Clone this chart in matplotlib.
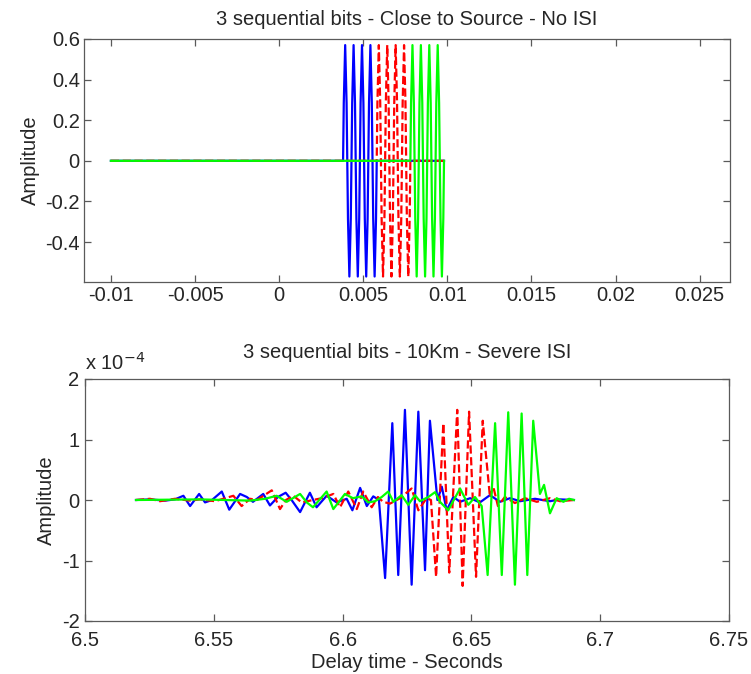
import numpy as np
import matplotlib
matplotlib.use("Agg")
import matplotlib.pyplot as plt

plt.rcParams['font.family'] = ['Liberation Sans', 'DejaVu Sans']

# ---------------- data: top panel (close to source) ----------------
top_bit_start = [0.0038, 0.0058, 0.0078]       # s, start of blue / red / green bit
top_bit_len = 0.002                             # s
top_sample_dt = 0.0005 / 6                      # s, sample spacing
top_trace_start = -0.01
top_trace_end = 0.0098
top_blue_v = [0.285, 0.57, 0.285, -0.285, -0.57, -0.285,
              0.285, 0.57, 0.285, -0.285, -0.57, -0.285,
              0.285, 0.57, 0.285, -0.285, -0.57, -0.285,
              0.285, 0.57, 0.285, -0.285, -0.57, -0.285]
top_red_v = [0.285, 0.57, 0.285, -0.285, -0.57, -0.285,
             0.285, 0.57, 0.285, -0.285, -0.57, -0.285,
             0.285, 0.57, 0.285, -0.285, -0.57, -0.285,
             0.285, 0.57, 0.285, -0.285, -0.57, -0.285]
top_green_v = [0.285, 0.57, 0.285, -0.285, -0.57, -0.285,
               0.285, 0.57, 0.285, -0.285, -0.57, -0.285,
               0.285, 0.57, 0.285, -0.285, -0.57, -0.285,
               0.285, 0.57, 0.285, -0.285, -0.57, -0.285]

# ---------------- data: bottom panel (10 km), amplitude in 1e-4 ----------------
bot_blue_t = [6.5198, 6.5252, 6.5311, 6.5349, 6.5382, 6.5408, 6.5443, 6.5466, 6.5493,
              6.5531, 6.5560, 6.5602, 6.5628, 6.5652, 6.5692, 6.5718, 6.5749, 6.5779,
              6.5802, 6.5835, 6.5873, 6.5899, 6.5938, 6.5977, 6.6016, 6.6038, 6.6068,
              6.6094, 6.6119, 6.6141, 6.6165, 6.6193, 6.6216, 6.6242, 6.6268, 6.6294,
              6.6320, 6.6339, 6.6368, 6.6385, 6.6404, 6.6430, 6.6456, 6.6495, 6.6533,
              6.6572, 6.6611, 6.6650, 6.6689, 6.6747, 6.6805, 6.6844, 6.6898]
bot_blue_v = [0.0, 0.01, -0.01, 0.01, 0.07, -0.10, 0.10, -0.04, 0.0,
              0.14, -0.16, 0.10, 0.05, -0.03, 0.10, -0.09, 0.05, 0.12,
              0.0, -0.20, 0.12, -0.12, 0.07, -0.04, 0.02, -0.17, 0.20,
              -0.10, 0.06, 0.0, -1.29, 1.27, -1.24, 1.49, -1.40, 1.46,
              -1.16, 1.31, 0.0, 0.22, -0.17, 0.05, -0.03, 0.03, -0.04,
              0.08, -0.03, 0.03, -0.02, 0.02, -0.02, 0.01, 0.0]

bot_red_t = [6.5198, 6.5252, 6.5291, 6.5349, 6.5408, 6.5446, 6.5505, 6.5576, 6.5608,
             6.5641, 6.5668, 6.5725, 6.5757, 6.5780, 6.5809, 6.5841, 6.5885, 6.5920,
             6.5964, 6.5990, 6.6022, 6.6055, 6.6080, 6.6113, 6.6137, 6.6157, 6.6184,
             6.6223, 6.6268, 6.6294, 6.6326, 6.6343, 6.6363, 6.6391, 6.6414, 6.6445,
             6.6466, 6.6491, 6.6518, 6.6544, 6.6572, 6.6585, 6.6603, 6.6630, 6.6669,
             6.6708, 6.6754, 6.6805, 6.6844, 6.6898]
bot_red_v = [0.0, 0.02, -0.02, 0.02, -0.01, 0.01, -0.02, 0.07, -0.10,
             0.02, 0.0, 0.16, -0.15, 0.0, 0.07, -0.04, 0.0, 0.03,
             0.10, -0.12, 0.14, -0.15, 0.14, -0.12, 0.05, -0.03, -0.06,
             0.03, 0.19, -0.17, 0.03, 0.0, -1.27, 1.27, -1.20, 1.49,
             -1.42, 1.46, -1.27, 1.31, 0.05, 0.22, -0.10, 0.05, -0.05,
             0.03, -0.03, 0.03, -0.02, 0.0]

bot_green_t = [6.5198, 6.5446, 6.5641, 6.5699, 6.5744, 6.5783, 6.5835, 6.5861, 6.5885,
               6.5938, 6.5964, 6.6009, 6.6040, 6.6074, 6.6100, 6.6126, 6.6152, 6.6177,
               6.6197, 6.6229, 6.6255, 6.6281, 6.6300, 6.6333, 6.6359, 6.6378, 6.6410,
               6.6456, 6.6488, 6.6514, 6.6540, 6.6563, 6.6592, 6.6618, 6.6643, 6.6669,
               6.6695, 6.6717, 6.6740, 6.6766, 6.6782, 6.6805, 6.6831, 6.6857, 6.6879,
               6.6898]
bot_green_v = [0.0, 0.01, -0.01, 0.02, 0.07, -0.03, 0.10, -0.04, -0.12,
               0.14, -0.15, 0.10, 0.03, 0.06, -0.04, -0.02, 0.05, 0.14,
               -0.03, 0.08, -0.08, 0.08, -0.02, 0.05, 0.13, -0.03, -0.17,
               0.19, -0.08, 0.05, -0.10, -1.24, 1.27, -1.24, 1.45, -1.40,
               1.43, -1.24, 1.31, 0.10, 0.25, -0.22, 0.03, -0.03, 0.02,
               0.0]
bot_scale = 1e-4

top_xticks = [-0.01, -0.005, 0, 0.005, 0.01, 0.015, 0.02, 0.025]
top_xticklabels = ['-0.01', '-0.005', '0', '0.005', '0.01', '0.015', '0.02', '0.025']
top_yticks = [-0.4, -0.2, 0, 0.2, 0.4, 0.6]
top_yticklabels = ['-0.4', '-0.2', '0', '0.2', '0.4', '0.6']
bot_xticks = [6.5, 6.55, 6.6, 6.65, 6.7, 6.75]
bot_xticklabels = ['6.5', '6.55', '6.6', '6.65', '6.7', '6.75']
bot_yticks = [-2, -1, 0, 1, 2]
bot_yticklabels = ['-2', '-1', '0', '1', '2']

# ---------------- figure ----------------
W, H = 751, 674
fig = plt.figure(figsize=(W / 100, H / 100), dpi=100)

def px_axes(l, t, r, b):
    return fig.add_axes([l / W, 1 - b / H, (r - l) / W, (b - t) / H])

ax1 = px_axes(84, 39, 730, 282)
ax2 = px_axes(85, 379, 729, 621)

blue, red, green = '#0000ff', '#ff0000', '#00ff00'
lw = 1.6
fs = 14.5
spine_col = '#5a5a5a'
text_col = '#262626'

def top_trace(start, vals):
    vals = np.asarray(vals, float)
    ts = start + (np.arange(len(vals)) + 0.5) * top_sample_dt
    t = np.concatenate([[top_trace_start, start], ts, [start + top_bit_len, top_trace_end]])
    v = np.concatenate([[0, 0], vals, [0, 0]])
    return t, v

for start, vals, col, ls in [(top_bit_start[0], top_blue_v, blue, '-'),
                             (top_bit_start[1], top_red_v, red, '--'),
                             (top_bit_start[2], top_green_v, green, '-')]:
    t, v = top_trace(start, vals)
    ax1.plot(t, v, color=col, ls=ls, lw=lw)

ax2.plot(bot_blue_t, np.array(bot_blue_v) * bot_scale, color=blue, lw=lw)
ax2.plot(bot_red_t, np.array(bot_red_v) * bot_scale, color=red, ls='--', lw=lw)
ax2.plot(bot_green_t, np.array(bot_green_v) * bot_scale, color=green, lw=lw)

ax1.set_xlim(-0.0116, 0.0268)
ax1.set_ylim(-0.597, 0.6)
ax1.set_xticks(top_xticks)
ax1.set_xticklabels(top_xticklabels)
ax1.set_yticks(top_yticks)
ax1.set_yticklabels(top_yticklabels)

ax2.set_xlim(6.5, 6.75)
ax2.set_ylim(-2 * bot_scale, 2 * bot_scale)
ax2.set_xticks(bot_xticks)
ax2.set_xticklabels(bot_xticklabels)
ax2.set_yticks(np.array(bot_yticks) * bot_scale)
ax2.set_yticklabels(bot_yticklabels)

for ax in (ax1, ax2):
    for s in ax.spines.values():
        s.set_color(spine_col)
        s.set_linewidth(0.9)
    ax.tick_params(direction='in', top=True, right=True, length=5, width=0.9,
                   color=spine_col, labelsize=fs, labelcolor=text_col, pad=3)
    ax.set_ylabel('Amplitude', fontsize=fs, color=text_col, labelpad=4)

ax2.tick_params(axis='x', pad=7)
ax2.tick_params(axis='y', pad=4)

ax1.set_title('3 sequential bits - Close to Source - No ISI', fontsize=fs, color=text_col, pad=10)
ax2.set_title('3 sequential bits - 10Km - Severe ISI', fontsize=fs, color=text_col, pad=15)
ax2.set_xlabel('Delay time - Seconds', fontsize=fs, color=text_col, labelpad=2)
ax2.text(0.0, 1.02, r'x 10$^{-4}$', transform=ax2.transAxes, ha='left', va='bottom',
         fontsize=fs, color=text_col)

fig.savefig('out.png', dpi=100)
